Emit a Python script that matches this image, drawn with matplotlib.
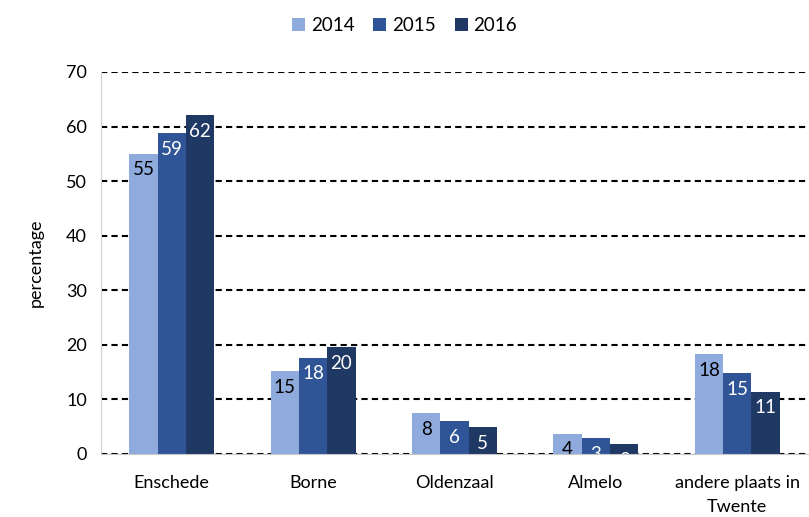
import numpy as np
import matplotlib.pyplot as plt

plt.rcParams['font.family'] = ['Lato', 'DejaVu Sans']

categories = ['Enschede', 'Borne', 'Oldenzaal', 'Almelo', 'andere plaats in\nTwente']
years = ['2014', '2015', '2016']
values_2014 = [55.0, 15.2, 7.5, 3.7, 18.3]
values_2015 = [58.8, 17.6, 6.0, 2.9, 14.8]
values_2016 = [62.1, 19.6, 4.9, 1.8, 11.4]
colors = ['#8faadc', '#2f5597', '#203864']
label_colors = ['black', 'white', 'white']

fig = plt.figure(figsize=(8.09, 5.17), dpi=100)
ax = fig.add_axes([101 / 809, 1 - 454 / 517, 707 / 809, 382 / 517])

x = np.arange(len(categories))
w = 0.2
series = [values_2014, values_2015, values_2016]
for i, vals in enumerate(series):
    bars = ax.bar(x + (i - 1) * w, vals, width=w, color=colors[i], label=years[i], zorder=3)
    for b, v in zip(bars, vals):
        ax.annotate(f"{round(v)}", (b.get_x() + b.get_width() / 2, v),
                    xytext=(0, -16), textcoords='offset pixels',
                    ha='center', va='center', fontsize=13.5, color=label_colors[i],
                    zorder=4)

ax.set_xlim(-0.5, 4.5)
ax.set_ylim(0, 70)
ax.set_yticks(range(0, 71, 10))
ax.set_xticks(x)
ax.set_xticklabels(categories, fontsize=13, linespacing=1.65)
ax.tick_params(axis='y', labelsize=13, length=0, pad=10)
ax.tick_params(axis='x', length=0, pad=15)
ax.yaxis.grid(True, linestyle=(0, (3, 2)), color='black', linewidth=1.5, zorder=0)
ax.set_axisbelow(True)
for s in ['top', 'right']:
    ax.spines[s].set_visible(False)
ax.spines['left'].set_color('#d0d0d0')
ax.spines['bottom'].set_color('#c8c8c8')
ax.spines['bottom'].set_zorder(5)
ax.set_ylabel('percentage', fontsize=13, labelpad=16)

fig.legend(loc='upper center', bbox_to_anchor=(0.5, 1.0), ncol=3, frameon=False,
           fontsize=13.5, handlelength=0.7, handleheight=0.7, handletextpad=0.3,
           columnspacing=1.0)

fig.savefig('out.png', dpi=100)
